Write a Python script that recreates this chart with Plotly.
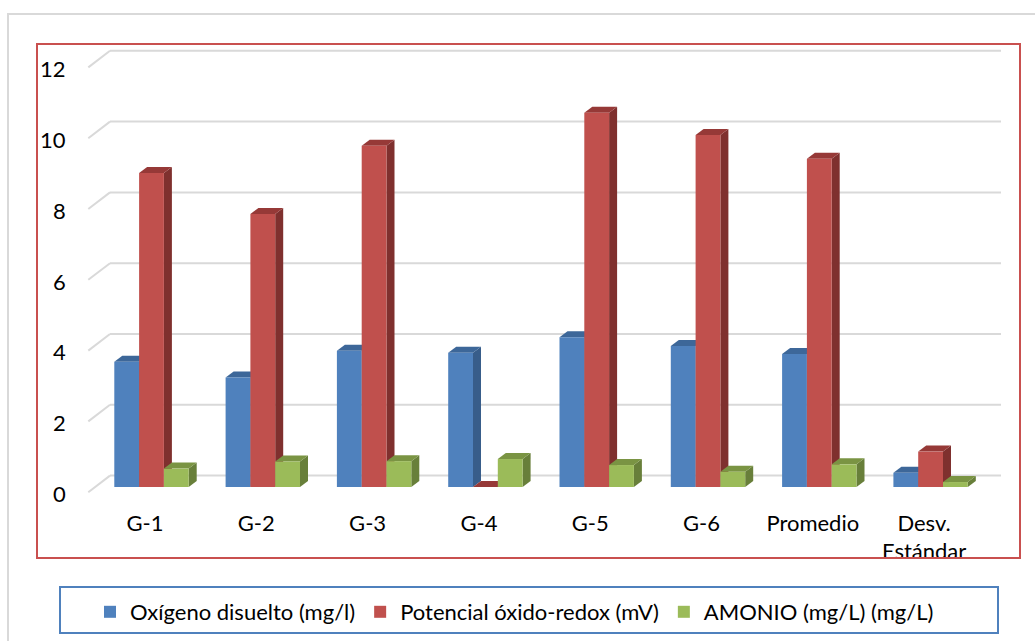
import plotly.graph_objects as go

# ---------------- data ----------------
categories = ["G-1", "G-2", "G-3", "G-4", "G-5", "G-6", "Promedio", "Desv.<br>Estándar"]
series_names = ["Oxígeno disuelto (mg/l)", "Potencial óxido-redox (mV)", "AMONIO (mg/L) (mg/L)"]
oxigeno = [3.54, 3.09, 3.85, 3.79, 4.23, 3.98, 3.76, 0.40]
potencial = [8.87, 7.71, 9.64, 0.0, 10.57, 9.94, 9.27, 1.00]
amonio = [0.52, 0.72, 0.73, 0.79, 0.62, 0.43, 0.64, 0.14]
y_ticks = [0, 2, 4, 6, 8, 10, 12]

# ---------------- style ----------------
front_cols = ["#4F81BD", "#C0504D", "#9BBB59"]
side_cols = ["#385D8A", "#7F302E", "#687F3A"]
top_cols = ["#3D6799", "#963937", "#7A9443"]
FONT = "Lato"
FS = 22

# layout geometry (pixels)
W, H = 1035, 641
ML, MR, MT, MB = 37, 15, 44, 83
PX_X = 111.3          # px per category
PX_Y = 35.4           # px per unit
X0_PX, Y0_PX = 151.5, 487.0   # pixel of category 0 centre / value 0
bar_w = 24.8 / PX_X
dx = 8.0 / PX_X       # depth offset
dy = 6.0 / PX_Y


def px_x(p):
    return (p - X0_PX) / PX_X


def px_y(p):
    return (Y0_PX - p) / PX_Y


x_range = [px_x(ML), px_x(W - MR)]
y_range = [px_y(H - MB), px_y(MT)]

idx = list(range(len(categories)))
series = [oxigeno, potencial, amonio]

fig = go.Figure()
shapes = []

# back-wall gridlines and left-wall slanted ticks (under everything)
back_dy = 11.4 / PX_Y
front_dy = -5.2 / PX_Y
for t in y_ticks:
    shapes.append(dict(type="line", xref="x", yref="y", layer="below",
                       x0=px_x(110), x1=px_x(1001), y0=t + back_dy, y1=t + back_dy,
                       line=dict(color="#D9D9D9", width=2)))
    shapes.append(dict(type="line", xref="x", yref="y", layer="below",
                       x0=px_x(88.3), x1=px_x(110), y0=t + front_dy, y1=t + back_dy,
                       line=dict(color="#D9D9D9", width=2)))


def path(pts):
    return "M " + " L ".join(f"{x:.5f},{y:.5f}" for x, y in pts) + " Z"


# 3D faces: sides first, then tops; the front faces are the real bars on top
for kind in ("side", "top"):
    for s, vals in enumerate(series):
        off = (s - 1.5) * bar_w
        for i, v in zip(idx, vals):
            x0 = i + off
            x1 = x0 + bar_w
            if kind == "side":
                pts = [(x1, 0), (x1 + dx, dy), (x1 + dx, v + dy), (x1, v)]
                col = side_cols[s]
            else:
                pts = [(x0, v), (x0 + dx, v + dy), (x1 + dx, v + dy), (x1, v)]
                col = top_cols[s]
            shapes.append(dict(type="path", xref="x", yref="y", layer="below",
                               path=path(pts), fillcolor=col, line=dict(width=0)))

# front faces (real bars)
for s, vals in enumerate(series):
    fig.add_trace(go.Bar(
        x=idx, y=vals, name=series_names[s], width=bar_w, offset=(s - 1.5) * bar_w,
        marker=dict(color=front_cols[s], line=dict(width=0)), hoverinfo="skip"))

# category labels (clipped by plot area like the original)
fig.add_trace(go.Scatter(
    x=[i - 6.5 / PX_X for i in idx], y=[px_y(514)] * len(idx), mode="text",
    text=categories, textposition="bottom center",
    textfont=dict(family=FONT, size=FS, color="#000000"),
    cliponaxis=True, hoverinfo="skip", showlegend=False))

# y tick labels
annotations = []
for t in y_ticks:
    annotations.append(dict(
        x=px_x(68), y=t + front_dy - 1.2 / PX_Y, xref="x", yref="y", text=str(t),
        showarrow=False, xanchor="right", yanchor="middle",
        font=dict(family=FONT, size=FS, color="#000000")))


def pxp(p):
    return (p - ML) / (W - ML - MR)


def pyp(p):
    return (H - MB - p) / (H - MT - MB)


shapes += [
    # outer light frame
    dict(type="rect", xref="paper", yref="paper", x0=pxp(8), x1=pxp(1060), y0=pyp(680), y1=pyp(14),
         line=dict(color="#D9D9D9", width=2), fillcolor="rgba(0,0,0,0)", layer="below"),
    # red plot-area border
    dict(type="rect", xref="paper", yref="paper", x0=0, x1=1, y0=0, y1=1,
         line=dict(color="#C9504F", width=2), fillcolor="rgba(0,0,0,0)", layer="above"),
    # legend box
    dict(type="rect", xref="paper", yref="paper", x0=pxp(60), x1=pxp(998), y0=pyp(633), y1=pyp(587),
         line=dict(color="#4F81BD", width=2), fillcolor="rgba(0,0,0,0)", layer="above"),
]

fig.update_layout(
    width=W, height=H,
    margin=dict(l=ML, r=MR, t=MT, b=MB, pad=0, autoexpand=False),
    paper_bgcolor="white", plot_bgcolor="white",
    barmode="overlay",
    xaxis=dict(range=x_range, visible=False, showgrid=False, zeroline=False, fixedrange=True),
    yaxis=dict(range=y_range, visible=False, showgrid=False, zeroline=False, fixedrange=True),
    showlegend=True,
    legend=dict(orientation="h", x=pxp(90), xanchor="left", y=pyp(612), yanchor="middle",
                font=dict(family=FONT, size=FS, color="#000000"), bgcolor="rgba(0,0,0,0)",
                borderwidth=0, itemwidth=30),
    shapes=shapes,
    annotations=annotations,
)

fig.write_html("out.html")
